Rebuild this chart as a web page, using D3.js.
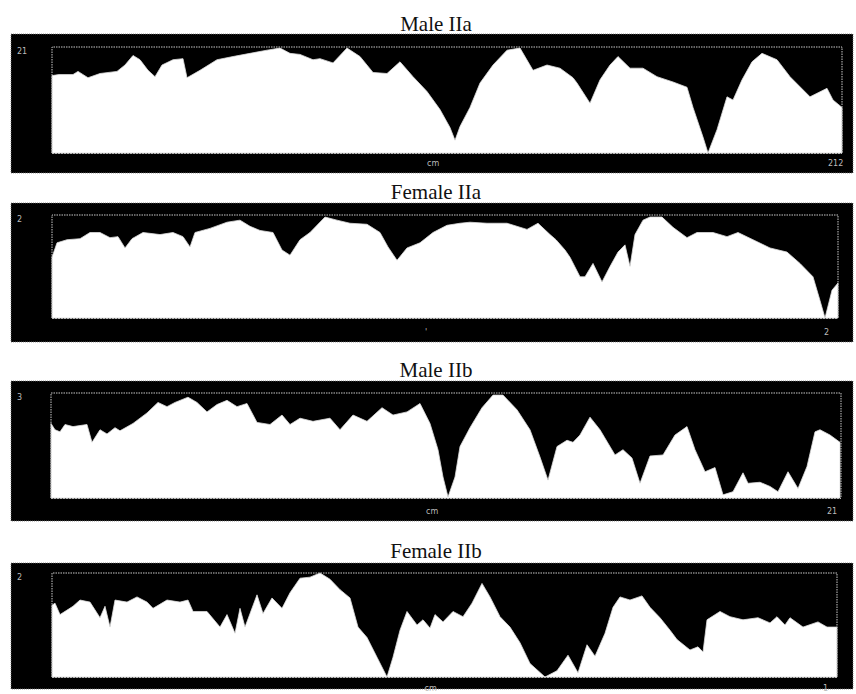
<!DOCTYPE html>
<html>
<head>
<meta charset="utf-8">
<script src="https://cdn.jsdelivr.net/npm/d3@7"></script>
<style>
  html, body { margin: 0; padding: 0; background: #fff; }
  svg { display: block; }
</style>
</head>
<body>
<svg id="chart" width="856" height="694"></svg>
<script>
// ---- DATA (position along chromosome in arbitrary units, relative intensity 0-100) ----
const categories = ["Male IIa", "Female IIa", "Male IIb", "Female IIb"];

const maleIIa = [[0,73],[7,74],[21,74],[26,77],[36,71],[48,75],[65,77],[73,83],[81,92],[88,88],[96,78],[103,72],[110,83],[121,88],[131,89],[135,71],[148,78],[165,88],[181,91],[198,94],[215,97],[228,99],[238,94],[248,93],[261,88],[268,89],[281,85],[295,99],[308,91],[321,76],[335,75],[348,86],[361,72],[375,58],[388,41],[398,24],[403,12],[408,25],[418,43],[428,66],[441,83],[455,97],[468,99],[481,78],[495,83],[508,80],[521,71],[525,66],[538,47],[548,69],[558,83],[566,91],[578,80],[591,80],[605,72],[621,67],[635,62],[641,43],[651,15],[656,0],[665,22],[675,53],[681,50],[690,69],[700,86],[710,94],[725,88],[738,72],[758,53],[775,61],[781,50],[790,43]];

const femaleIIa = [[0,59],[5,73],[15,76],[28,77],[38,83],[48,83],[58,78],[66,79],[73,68],[80,77],[91,83],[108,81],[121,83],[131,79],[138,69],[143,83],[158,87],[175,93],[188,95],[198,89],[208,85],[221,83],[230,66],[238,61],[248,76],[258,83],[273,98],[285,95],[298,92],[315,91],[328,83],[336,69],[345,56],[355,68],[368,73],[381,83],[395,90],[408,92],[418,93],[435,92],[455,92],[475,86],[486,92],[498,81],[504,76],[513,66],[518,59],[528,40],[533,40],[541,53],[550,35],[558,50],[566,64],[573,71],[578,50],[583,81],[591,95],[598,98],[610,98],[621,88],[635,78],[645,83],[661,83],[675,79],[686,83],[701,76],[718,68],[735,64],[748,53],[761,40],[768,17],[773,0],[780,27],[786,34]];

const maleIIb = [[0,71],[4,65],[9,63],[14,70],[22,68],[36,70],[41,53],[49,65],[56,61],[64,67],[69,64],[82,71],[96,81],[107,91],[116,87],[124,91],[137,96],[146,91],[156,82],[166,89],[176,93],[186,87],[196,90],[206,72],[219,70],[231,79],[239,70],[249,76],[262,73],[279,76],[289,65],[302,79],[316,73],[331,86],[342,79],[356,82],[369,90],[379,71],[387,46],[392,20],[397,1],[404,20],[409,49],[419,67],[431,86],[442,98],[452,98],[466,84],[479,65],[489,39],[497,17],[506,49],[516,55],[522,53],[529,60],[539,77],[549,65],[564,41],[572,46],[581,38],[589,14],[599,40],[612,41],[624,60],[636,68],[644,46],[654,25],[664,29],[672,3],[682,6],[692,24],[697,14],[709,15],[719,11],[727,6],[737,25],[747,9],[756,30],[764,63],[769,65],[779,60],[789,53]];

const femaleIIb = [[0,69],[3,71],[8,60],[21,68],[28,74],[38,72],[48,57],[53,68],[58,48],[63,74],[75,72],[85,77],[95,72],[101,66],[115,74],[128,72],[136,74],[141,63],[155,63],[168,48],[175,60],[183,42],[188,66],[193,48],[205,79],[211,61],[220,76],[230,66],[238,81],[243,88],[248,95],[258,96],[268,100],[278,94],[288,84],[298,76],[306,48],[315,38],[325,19],[335,0],[341,19],[348,45],[355,63],[365,50],[371,55],[378,47],[383,60],[391,53],[401,63],[411,58],[420,71],[430,90],[438,77],[448,58],[458,48],[468,33],[478,13],[493,0],[505,6],[516,21],[526,4],[535,31],[543,20],[553,42],[561,67],[568,77],[578,74],[590,78],[598,67],[608,57],[618,45],[625,36],[638,26],[646,29],[651,24],[655,55],[668,63],[678,58],[691,55],[706,57],[718,52],[725,58],[733,50],[738,57],[751,48],[766,53],[775,48],[785,48]];

const lengths = [790, 786, 790, 785];
const axisLabels = ["cm", "'", "cm", "cm"];
const endLabels = ["212", "2", "21", "1"];
const cornerLabels = ["21", "2", "3", "2"];

// ---- LAYOUT ----
const seriesList = [maleIIa, femaleIIa, maleIIb, femaleIIb];
const layout = [
  { titleY: 31,  outer: [34, 173],  inner: { x0: 52, x1: 842, y0: 47,  y1: 153 }, labY: 166 },
  { titleY: 199, outer: [203, 342], inner: { x0: 52, x1: 838, y0: 215, y1: 318 }, labY: 335 },
  { titleY: 377, outer: [381, 521], inner: { x0: 51, x1: 841, y0: 393, y1: 498 }, labY: 514 },
  { titleY: 558, outer: [563, 689], inner: { x0: 52, x1: 837, y0: 573, y1: 677 }, labY: 691 }
];
const frameX0 = 11, frameX1 = 853;

const svg = d3.select("#chart");

categories.forEach((name, i) => {
  const L = layout[i];
  const data = seriesList[i];
  const g = svg.append("g");

  // title
  g.append("text")
    .attr("x", 436).attr("y", L.titleY)
    .attr("text-anchor", "middle")
    .attr("font-family", "'Liberation Serif', 'Times New Roman', serif")
    .attr("font-size", 21)
    .attr("fill", "#111")
    .text(name);

  // outer black frame
  g.append("rect")
    .attr("x", frameX0).attr("y", L.outer[0])
    .attr("width", frameX1 - frameX0).attr("height", L.outer[1] - L.outer[0])
    .attr("fill", "#000")
    .attr("stroke", "#777").attr("stroke-width", 0.8).attr("stroke-dasharray", "1,1");

  const x = d3.scaleLinear().domain([0, lengths[i]]).range([L.inner.x0, L.inner.x1]);
  const y = d3.scaleLinear().domain([0, 100]).range([L.inner.y1, L.inner.y0]);

  // white profile area
  const area = d3.area()
    .x(d => x(d[0]))
    .y0(y(0))
    .y1(d => y(d[1]))
    .curve(d3.curveLinear);
  g.append("path").datum(data)
    .attr("d", area)
    .attr("fill", "#fff")
    .attr("stroke", "#ddd").attr("stroke-width", 0.8);

  // dotted plot border (top, left, right)
  const border = d3.path();
  border.moveTo(x(0), y(0));
  border.lineTo(x(0), y(100));
  border.lineTo(x(lengths[i]), y(100));
  border.lineTo(x(lengths[i]), y(0));
  g.append("path")
    .attr("d", border.toString())
    .attr("fill", "none")
    .attr("stroke", "#c8c8c8").attr("stroke-width", 1)
    .attr("stroke-dasharray", "1.5,1");
  // bottom dotted line
  g.append("line")
    .attr("x1", x(0)).attr("x2", x(lengths[i]))
    .attr("y1", y(0) + 0.5).attr("y2", y(0) + 0.5)
    .attr("stroke", "#bbb").attr("stroke-width", 1).attr("stroke-dasharray", "2,1");

  // small labels
  const small = (tx, ty, t) => g.append("text")
    .attr("x", tx).attr("y", ty)
    .attr("font-family", "'DejaVu Sans', sans-serif")
    .attr("font-size", 8)
    .attr("fill", "#bbb")
    .text(t);
  small(x(lengths[i] / 2) - 20, L.labY, axisLabels[i]);
  small(x(lengths[i]) - 14, L.labY, endLabels[i]);
  small(frameX0 + 6, y(100) + 7, cornerLabels[i]);
});
</script>
</body>
</html>
